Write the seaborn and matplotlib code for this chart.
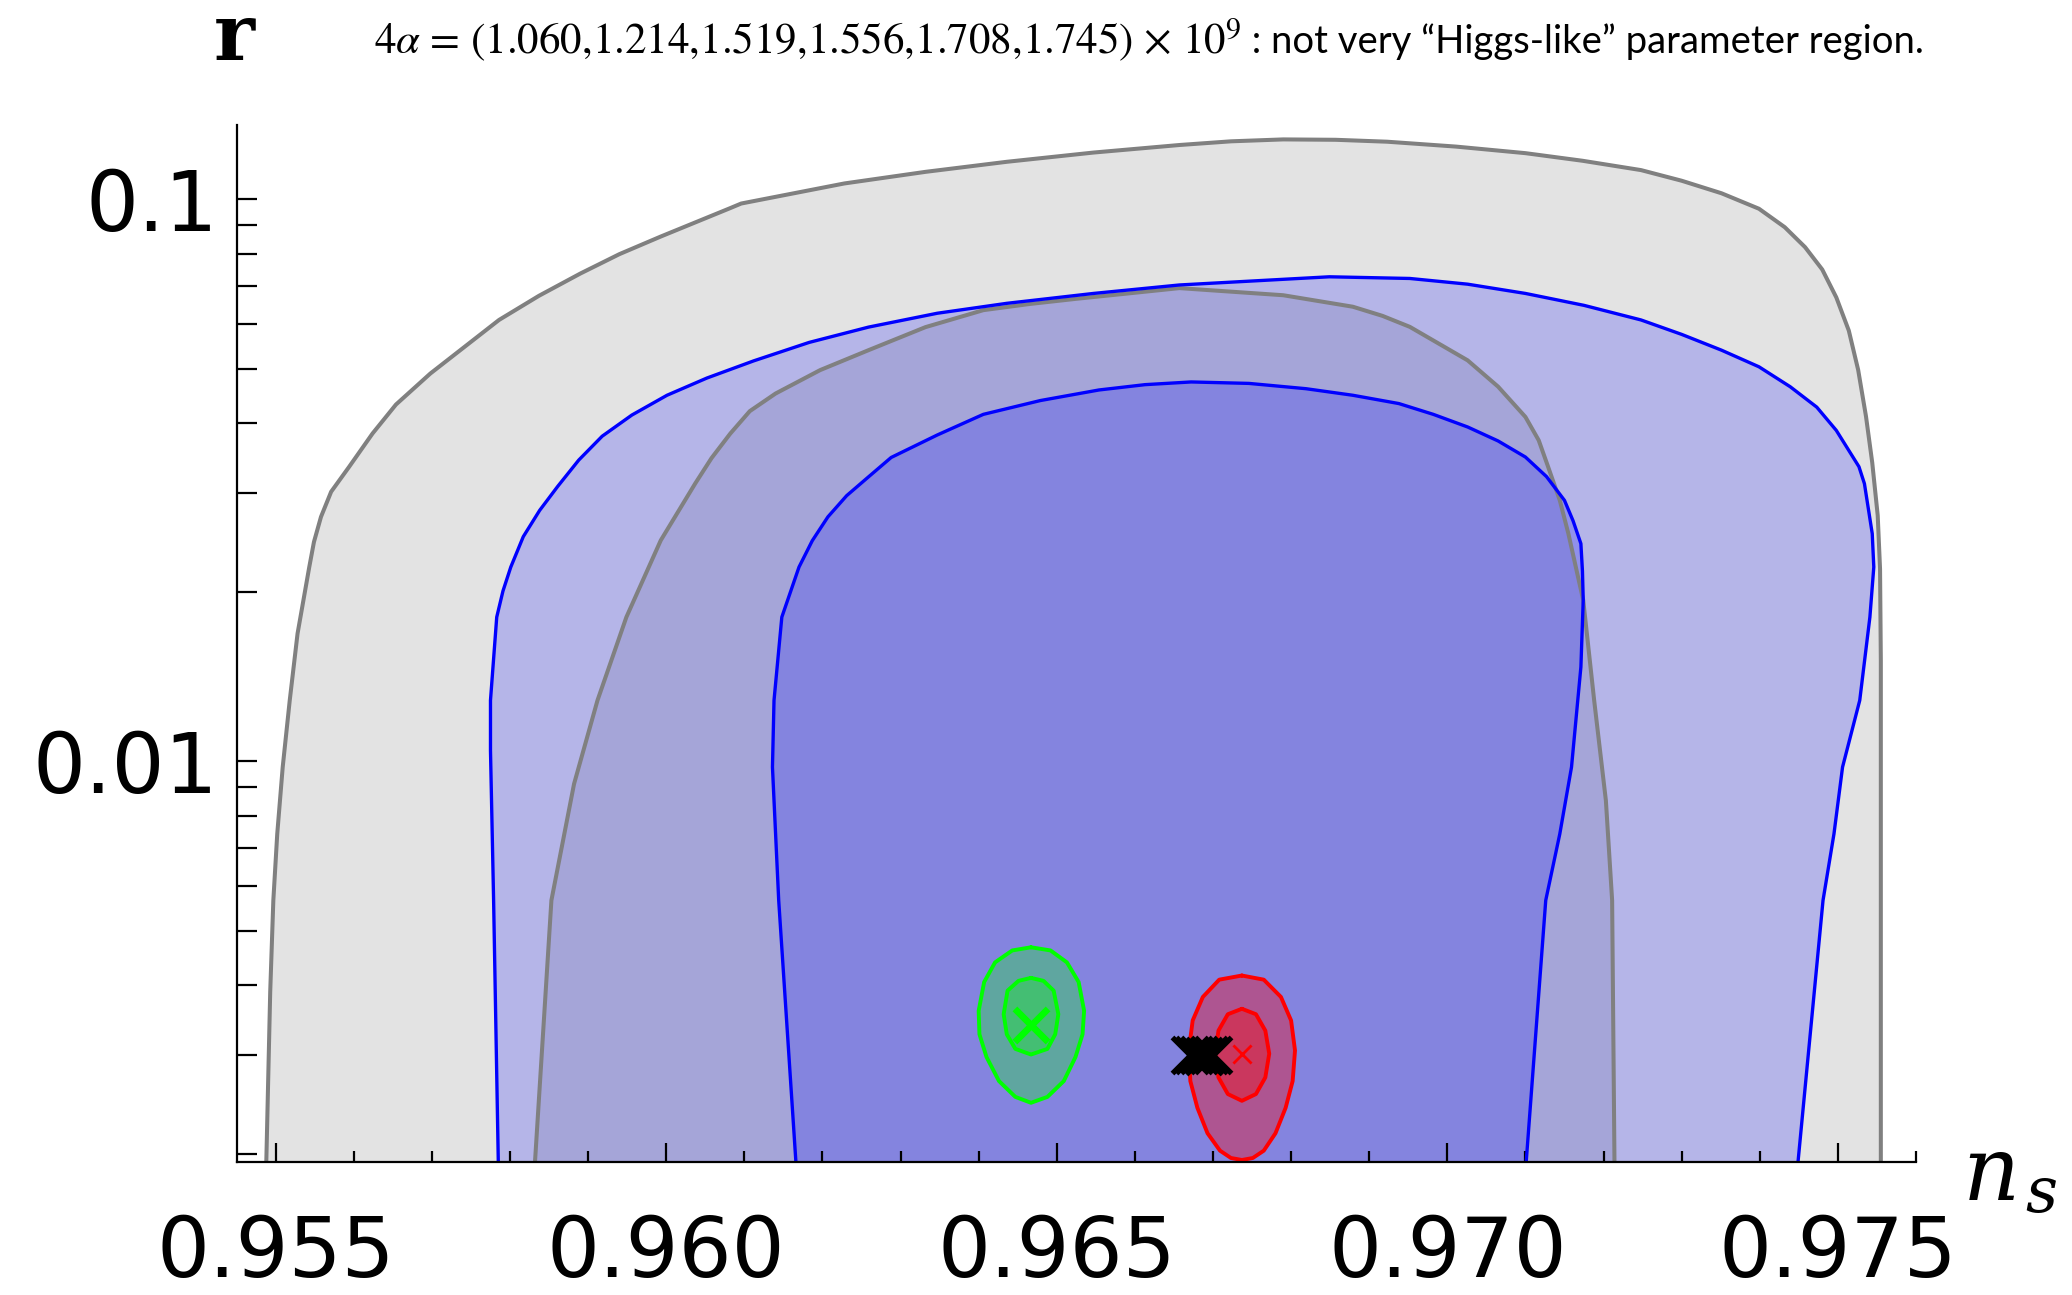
import numpy as np
import pandas as pd
import matplotlib
matplotlib.use("Agg")
import matplotlib.pyplot as plt
import seaborn as sns
from matplotlib.ticker import FixedLocator, FixedFormatter, NullFormatter

# ---------------- data ----------------
# outer gray contour
g1_ns = [0.95487, 0.95488, 0.95493, 0.95497, 0.95502, 0.95509, 0.95518, 0.95528, 0.95543,
         0.95549, 0.95558, 0.95571, 0.95594, 0.95624, 0.95654, 0.95698, 0.95786, 0.95837,
         0.95890, 0.95940, 0.95993, 0.96081, 0.96096, 0.96228, 0.96332, 0.96436, 0.96547,
         0.96657, 0.96723, 0.96790, 0.96857, 0.96923, 0.97011, 0.97100, 0.97173, 0.97248,
         0.97300, 0.97351, 0.97399, 0.97432, 0.97458, 0.97480, 0.97498, 0.97514, 0.97526,
         0.97536, 0.97544, 0.97551, 0.97554, 0.97555, 0.97555, 0.97555, 0.97555]
g1_r = [0.0017, 0.00194, 0.00389, 0.00566, 0.00743, 0.00977, 0.01284, 0.01688, 0.02217,
        0.02457, 0.02723, 0.03018, 0.03342, 0.03831, 0.04314, 0.04898, 0.06101, 0.06734,
        0.07377, 0.07987, 0.08585, 0.09633, 0.09828, 0.1067, 0.1119, 0.1166, 0.1211,
        0.1249, 0.1268, 0.1278, 0.1276, 0.1266, 0.1241, 0.1208, 0.1171, 0.1127,
        0.1079, 0.1025, 0.0962, 0.0892, 0.0822, 0.0750, 0.0669, 0.0584, 0.0497,
        0.0411, 0.0340, 0.0274, 0.0220, 0.0151, 0.00511, 0.00194, 0.0017]

# inner gray contour
g2_ns = [0.95832, 0.95832, 0.95853, 0.95882, 0.95912, 0.95949, 0.95993, 0.96037, 0.96058,
         0.96082, 0.96107, 0.96140, 0.96197, 0.96259, 0.96332, 0.96406, 0.96465, 0.96524,
         0.96657, 0.96790, 0.96879, 0.96917, 0.96952, 0.97026, 0.97065, 0.97100, 0.97117,
         0.97129, 0.97144, 0.97155, 0.97174, 0.97188, 0.97203, 0.97211, 0.97214, 0.97214]
g2_r = [0.0017, 0.00194, 0.00566, 0.00912, 0.01284, 0.01806, 0.02473, 0.03120, 0.03464,
        0.0383, 0.04199, 0.04513, 0.04967, 0.0539, 0.05924, 0.0635, 0.06512, 0.0665,
        0.0695, 0.0675, 0.0644, 0.06203, 0.0593, 0.0517, 0.04642, 0.0410, 0.03726,
        0.03344, 0.02913, 0.02542, 0.01935, 0.01284, 0.00852, 0.00566, 0.00194, 0.0017]

# outer blue contour
b1_ns = [0.95785, 0.95785, 0.95779, 0.95775, 0.95775, 0.95783, 0.95791, 0.95801, 0.95817,
         0.95838, 0.95861, 0.95888, 0.95918, 0.95956, 0.96001, 0.96052, 0.96112, 0.96183,
         0.96259, 0.96347, 0.96436, 0.96547, 0.96657, 0.96849, 0.96952, 0.97026, 0.97100,
         0.97175, 0.97248, 0.97300, 0.97351, 0.97399, 0.97439, 0.97473, 0.97498, 0.97527,
         0.97534, 0.97544, 0.97546, 0.97541, 0.97528, 0.97506, 0.97495, 0.97481, 0.97449,
         0.97446]
b1_r = [0.0017, 0.00194, 0.00566, 0.01046, 0.01284, 0.01806, 0.02010, 0.02217, 0.02511,
        0.02797, 0.03084, 0.03436, 0.03789, 0.04132, 0.04481, 0.04808, 0.05159, 0.05564,
        0.05924, 0.06270, 0.0653, 0.06800, 0.0704, 0.0728, 0.0723, 0.07063, 0.0680,
        0.06476, 0.0610, 0.05750, 0.0539, 0.05035, 0.0464, 0.04268, 0.0388, 0.03344,
        0.03120, 0.02542, 0.02217, 0.01806, 0.01284, 0.00977, 0.00743, 0.00566, 0.00194,
        0.0017]

# inner blue contour
b2_ns = [0.96166, 0.96166, 0.96144, 0.96136, 0.96138, 0.96148, 0.96170, 0.96187, 0.96207,
         0.96231, 0.96259, 0.96288, 0.96347, 0.96406, 0.96479, 0.96554, 0.96613, 0.96672,
         0.96746, 0.96819, 0.96879, 0.96938, 0.96982, 0.97026, 0.97065, 0.97100, 0.97127,
         0.97150, 0.97161, 0.97171, 0.97173, 0.97174, 0.97171, 0.97159, 0.97144, 0.97126,
         0.97101, 0.97101]
b2_r = [0.0017, 0.00194, 0.00566, 0.00977, 0.01284, 0.01806, 0.02217, 0.02470, 0.02723,
        0.02970, 0.03208, 0.03473, 0.03808, 0.04144, 0.04385, 0.04579, 0.04680, 0.04732,
        0.04704, 0.04603, 0.04481, 0.04331, 0.04144, 0.03935, 0.03716, 0.03479, 0.03211,
        0.02913, 0.02679, 0.02440, 0.02181, 0.01935, 0.01472, 0.00977, 0.00743, 0.00566,
        0.00194, 0.0017]

# green contours
gr_out_ns = [0.96467, 0.96492, 0.96513, 0.96528, 0.96535, 0.96533, 0.96524, 0.96509, 0.96488,
             0.96467, 0.96447, 0.96426, 0.96410, 0.96401, 0.96400, 0.96407, 0.96421, 0.96443]
gr_out_r = [0.00467, 0.00461, 0.00439, 0.00405, 0.00360, 0.00327, 0.00298, 0.00270, 0.00253,
            0.00247, 0.00253, 0.00270, 0.00298, 0.00327, 0.00360, 0.00405, 0.00439, 0.00461]
gr_in_ns = [0.96467, 0.96483, 0.96496, 0.96502, 0.96498, 0.96488, 0.96467, 0.96447, 0.96436,
            0.96432, 0.96437, 0.96451]
gr_in_r = [0.00412, 0.00407, 0.00391, 0.00355, 0.00327, 0.00308, 0.00301, 0.00308, 0.00327,
           0.00355, 0.00391, 0.00407]

# red contours
rd_out_ns = [0.96737, 0.96765, 0.96787, 0.96800, 0.96805, 0.96802, 0.96793, 0.96780, 0.96765,
             0.96751, 0.96737, 0.96723, 0.96709, 0.96693, 0.96680, 0.96671, 0.96669, 0.96674,
             0.96687, 0.96708]
rd_out_r = [0.00416, 0.00409, 0.00381, 0.00346, 0.00306, 0.00270, 0.00242, 0.00218, 0.00203,
            0.00197, 0.001954, 0.00197, 0.00203, 0.00218, 0.00242, 0.00270, 0.00306, 0.00346,
            0.00381, 0.00409]
rd_in_ns = [0.96737, 0.96755, 0.96767, 0.96772, 0.96767, 0.96755, 0.96737, 0.96719, 0.96707,
            0.96703, 0.96707, 0.96719]
rd_in_r = [0.00363, 0.00355, 0.00332, 0.00302, 0.00274, 0.00256, 0.00249, 0.00256, 0.00274,
           0.00302, 0.00332, 0.00355]

# best-fit points
green_pt_ns, green_pt_r = [0.96467], [0.00340]
red_pt_ns, red_pt_r = [0.96737], [0.00302]
black_pts_ns = [0.96671, 0.96676, 0.96682, 0.96689, 0.96695, 0.96700]
black_pts_r = [0.00301, 0.00300, 0.00300, 0.00299, 0.00300, 0.00300]

x_major = [0.955, 0.960, 0.965, 0.970, 0.975]
x_major_labels = ["0.955", "0.960", "0.965", "0.970", "0.975"]
x_minor = [0.956, 0.957, 0.958, 0.959, 0.961, 0.962, 0.963, 0.964, 0.966, 0.967, 0.968,
           0.969, 0.971, 0.972, 0.973, 0.974, 0.976]
y_major = [0.01, 0.1]
y_major_labels = ["0.01", "0.1"]
y_minor = [0.002, 0.003, 0.004, 0.005, 0.006, 0.007, 0.008, 0.009,
           0.02, 0.03, 0.04, 0.05, 0.06, 0.07, 0.08, 0.09]

title_math = "4$\\alpha$ = (1.060,1.214,1.519,1.556,1.708,1.745) \u00d7 10$^9$"
title_text = " : not very \u201cHiggs-like\u201d parameter region."

# ---------------- figure ----------------
sns.set_theme(style="white")
plt.rcParams['font.family'] = ['DejaVu Sans']
plt.rcParams['mathtext.fontset'] = 'stix'

fig = plt.figure(figsize=(20.72, 12.95), dpi=100)
ax = fig.add_axes([0.1142, 0.1029, 0.8105, 0.8002])
ax.set_yscale('log')


def region(ns, r, face, alpha, z):
    ax.fill(ns, r, facecolor=face, alpha=alpha, edgecolor='none', zorder=z)


def outline(ns, r, color, lw, z, close=False):
    xs = list(ns) + ([ns[0]] if close else [])
    ys = list(r) + ([r[0]] if close else [])
    df = pd.DataFrame({'ns': xs, 'r': ys})
    sns.lineplot(data=df, x='ns', y='r', sort=False, estimator=None, color=color,
                 linewidth=lw, ax=ax, zorder=z)


# gray (background) regions
region(g1_ns, g1_r, '#e3e3e3', 1.0, 1.0)
region(g2_ns, g2_r, '#cfcfcf', 1.0, 1.1)
# blue translucent regions
region(b1_ns, b1_r, (0, 0, 1), 0.2, 1.2)
region(b2_ns, b2_r, (0, 0, 1), 0.2, 1.3)

outline(g1_ns, g1_r, '#808080', 2.9, 3.0)
outline(g2_ns, g2_r, '#808080', 2.9, 3.1)
outline(b1_ns, b1_r, '#0000ff', 2.4, 3.2)
outline(b2_ns, b2_r, '#0000ff', 2.4, 3.3)

# green and red
region(gr_out_ns, gr_out_r, (0, 1, 0), 0.28, 4.0)
region(gr_in_ns, gr_in_r, (0, 1, 0), 0.28, 4.1)
region(rd_out_ns, rd_out_r, (1, 0, 0), 0.35, 4.0)
region(rd_in_ns, rd_in_r, (1, 0, 0), 0.35, 4.1)
outline(gr_out_ns, gr_out_r, '#00ff00', 2.8, 5.0, close=True)
outline(gr_in_ns, gr_in_r, '#00ff00', 2.8, 5.0, close=True)
outline(rd_out_ns, rd_out_r, '#ff0000', 2.8, 5.0, close=True)
outline(rd_in_ns, rd_in_r, '#ff0000', 2.8, 5.0, close=True)

sns.scatterplot(x=green_pt_ns, y=green_pt_r, marker='x', s=570, linewidth=4.8,
                color='#00ff00', ax=ax, zorder=6)
sns.scatterplot(x=red_pt_ns, y=red_pt_r, marker='x', s=170, linewidth=2.0,
                color='#ff0000', ax=ax, zorder=6)
sns.scatterplot(x=black_pts_ns, y=black_pts_r, marker='x', s=675, linewidth=3.8,
                color='black', ax=ax, zorder=7)

ax.set_xlim(0.9545, 0.976)
ax.set_ylim(0.00194, 0.1353)
ax.set_xlabel('')
ax.set_ylabel('')
ax.grid(False)
ax.set_facecolor('white')

for s in ['top', 'right']:
    ax.spines[s].set_visible(False)
for s in ['left', 'bottom']:
    ax.spines[s].set_color('black')
    ax.spines[s].set_linewidth(1.6)
    ax.spines[s].set_zorder(8)

ax.xaxis.set_major_locator(FixedLocator(x_major))
ax.xaxis.set_major_formatter(FixedFormatter(x_major_labels))
ax.xaxis.set_minor_locator(FixedLocator(x_minor))
ax.xaxis.set_minor_formatter(NullFormatter())
ax.yaxis.set_major_locator(FixedLocator(y_major))
ax.yaxis.set_major_formatter(FixedFormatter(y_major_labels))
ax.yaxis.set_minor_locator(FixedLocator(y_minor))
ax.yaxis.set_minor_formatter(NullFormatter())

ax.tick_params(axis='x', which='major', direction='in', length=13.7, width=1.6,
               pad=37, labelsize=60, colors='black', bottom=True)
ax.tick_params(axis='x', which='minor', direction='in', length=8, width=1.6,
               colors='black', bottom=True)
ax.tick_params(axis='y', which='both', direction='in', length=14.4, width=1.6,
               pad=13, labelsize=60, colors='black', left=True)
ax.set_axisbelow(False)
for lbl in ax.get_xticklabels() + ax.get_yticklabels():
    lbl.set_fontfamily('DejaVu Sans')

fig.text(0.113, 0.9537, 'r', family='DejaVu Serif', fontweight='bold', fontsize=56,
         ha='center', va='baseline', color='black')
fig.text(0.9474, 0.0734, 'n', family='DejaVu Serif', style='italic', fontsize=64,
         ha='left', va='baseline', color='black')
fig.text(0.9773, 0.0641, 's', family='DejaVu Serif', style='italic', fontsize=45,
         ha='left', va='baseline', color='black')

t1 = fig.text(0.1805, 0.959, title_math, family='STIXGeneral', fontsize=31,
              ha='left', va='baseline', color='black')
fig.canvas.draw()
bb = t1.get_window_extent(renderer=fig.canvas.get_renderer())
x_next = bb.x1 / fig.bbox.width
fig.text(x_next, 0.959, title_text, family='Lato', fontsize=27.5, ha='left',
         va='baseline', color='black')

fig.savefig('out.png', dpi=100)
